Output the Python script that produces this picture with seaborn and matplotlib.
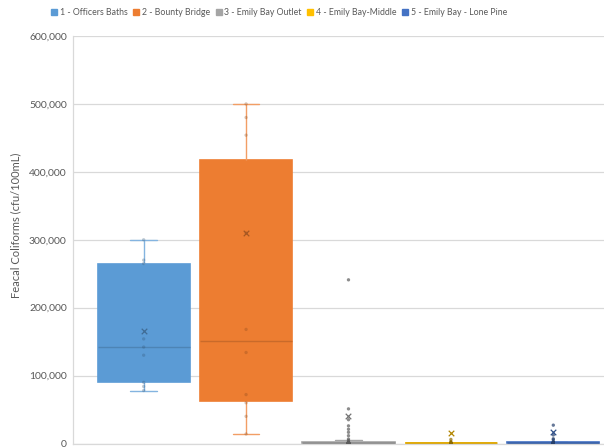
import numpy as np
import pandas as pd
import matplotlib
matplotlib.use("Agg")
import matplotlib.pyplot as plt
from matplotlib.patches import Patch
from matplotlib.ticker import FuncFormatter, MultipleLocator
from matplotlib.colors import to_rgb
import seaborn as sns

# Sampling sites and their series colours
sites = [
    "1 - Officers Baths",
    "2 - Bounty Bridge",
    "3 - Emily Bay Outlet",
    "4 - Emily Bay-Middle",
    "5 - Emily Bay - Lone Pine",
]
site_colors = ["#5B9BD5", "#ED7D31", "#A5A5A5", "#FFC000", "#4472C4"]

# Faecal coliform counts (cfu/100mL) per site
officers_baths = [78000, 84000, 90000, 130000, 142000, 154000, 265000, 270000, 300000]
bounty_bridge = [14000, 40000, 60000, 72000, 134000, 168000, 310000, 454000, 480000, 500000]
emily_bay_outlet = [
    0, 0, 0, 50, 100, 100, 150, 150, 200, 200,
    200, 250, 300, 300, 350, 400, 450, 500, 550, 600,
    600, 700, 800, 900, 1000, 1100, 1300, 1500, 1700, 2000,
    2000, 4600, 6600, 11500, 16500, 21000, 26000, 35000, 51000, 241000,
]
emily_bay_middle = [0, 0, 0, 100, 100, 100, 200, 200, 200, 300,
                    300, 400, 400, 500, 600, 700, 800, 1000, 3000, 6000]
emily_bay_lone_pine = [0, 0, 100, 100, 200, 200, 300, 300, 400, 500, 600, 700,
                       800, 900, 1000, 1200, 1400, 1600, 1800, 2500,
                       5500, 7000, 12500, 27000]

# Mean markers per site
site_means = [166000, 310000, 40000, 15000, 17000]

series = [officers_baths, bounty_bridge, emily_bay_outlet, emily_bay_middle, emily_bay_lone_pine]
samples = pd.DataFrame({
    "site": np.repeat(sites, [len(s) for s in series]),
    "fc": np.concatenate(series).astype(float),
})
means = pd.DataFrame({"site": sites, "fc": site_means})


def shade(c, f):
    r, g, b = to_rgb(c)
    if f < 0:  # darken
        k = 1 + f
        return (r * k, g * k, b * k)
    return (r + (1 - r) * f, g + (1 - g) * f, b + (1 - b) * f)


sns.set_theme(style="white")
plt.rcParams["font.family"] = ["Lato", "DejaVu Sans"]

text_grey = "#595959"
grid_grey = "#d9d9d9"

fig = plt.figure(figsize=(6.04, 4.48), dpi=100)
ax = fig.add_axes([73 / 604, 4.5 / 448, (604 - 73) / 604, 407.5 / 448])

sns.boxplot(
    data=samples, x="site", y="fc", hue="site", order=sites, hue_order=sites,
    palette=site_colors, saturation=1, width=0.9, showfliers=False,
    linewidth=1.2, whis=1.5, legend=False, dodge=False, capwidths=0.26, ax=ax,
)

# Individual samples as dots: faint inside the large boxes, plainer for the bay sites
big = samples["site"].isin(sites[:2])
dot_palette = [shade(c, -0.45) for c in site_colors]
sns.stripplot(
    data=samples[big], x="site", y="fc", hue="site", order=sites, hue_order=sites,
    palette=dot_palette, jitter=False, size=2.4, alpha=0.3, linewidth=0,
    legend=False, ax=ax,
)
sns.stripplot(
    data=samples[~big], x="site", y="fc", hue="site", order=sites, hue_order=sites,
    palette=dot_palette, jitter=False, size=2.4, alpha=0.7, linewidth=0,
    legend=False, ax=ax,
)

# Mean markers
sns.stripplot(
    data=means, x="site", y="fc", hue="site", order=sites, hue_order=sites,
    palette=[shade(c, -0.3) for c in site_colors], jitter=False, size=4,
    marker="x", linewidth=0.9, legend=False, ax=ax,
)

# Colour box outlines, whiskers, caps and medians per site
for p in ax.patches:
    p.set_edgecolor(p.get_facecolor())
for ln in ax.lines:
    xd = np.asarray(ln.get_xdata(), dtype=float)
    if xd.size < 2:
        continue
    idx = int(round(xd.mean()))
    if idx < 0 or idx >= len(sites):
        continue
    base = site_colors[idx]
    span = xd.max() - xd.min()
    if span > 0.6:  # median
        ln.set_color(shade(base, -0.15))
        ln.set_linewidth(1.0 if idx < 2 else 1.8)
    else:  # whiskers and caps
        ln.set_color(shade(base, 0.25) if idx < 2 else base)
        ln.set_linewidth(1.0)

ax.set_xlim(-0.69, 4.495)
ax.set_ylim(0, 600000)
ax.yaxis.set_major_locator(MultipleLocator(100000))
ax.yaxis.set_major_formatter(FuncFormatter(lambda v, _: f"{int(v):,}"))
ax.grid(axis="y", color=grid_grey, linewidth=0.9)
ax.set_axisbelow(True)
ax.set_xticks([])
ax.set_xlabel("")
ax.tick_params(axis="y", length=0, pad=4.5, labelsize=7.5, labelcolor=text_grey)
ax.set_ylabel("Feacal Coliforms (cfu/100mL)", fontsize=8, color=text_grey)
ax.yaxis.set_label_coords(-0.098, 0.536)

for side in ("top", "right"):
    ax.spines[side].set_visible(False)
for side in ("left", "bottom"):
    ax.spines[side].set_color(grid_grey)
    ax.spines[side].set_linewidth(0.9)

handles = [Patch(facecolor=c, edgecolor=c) for c in site_colors]
fig.legend(
    handles, sites, ncol=5, loc="center", bbox_to_anchor=(0.462, 0.971),
    frameon=False, handlelength=0.7, handleheight=0.7, handletextpad=0.3,
    columnspacing=0.65, fontsize=6.3, labelcolor=text_grey,
)

fig.savefig("out.png", dpi=100)
